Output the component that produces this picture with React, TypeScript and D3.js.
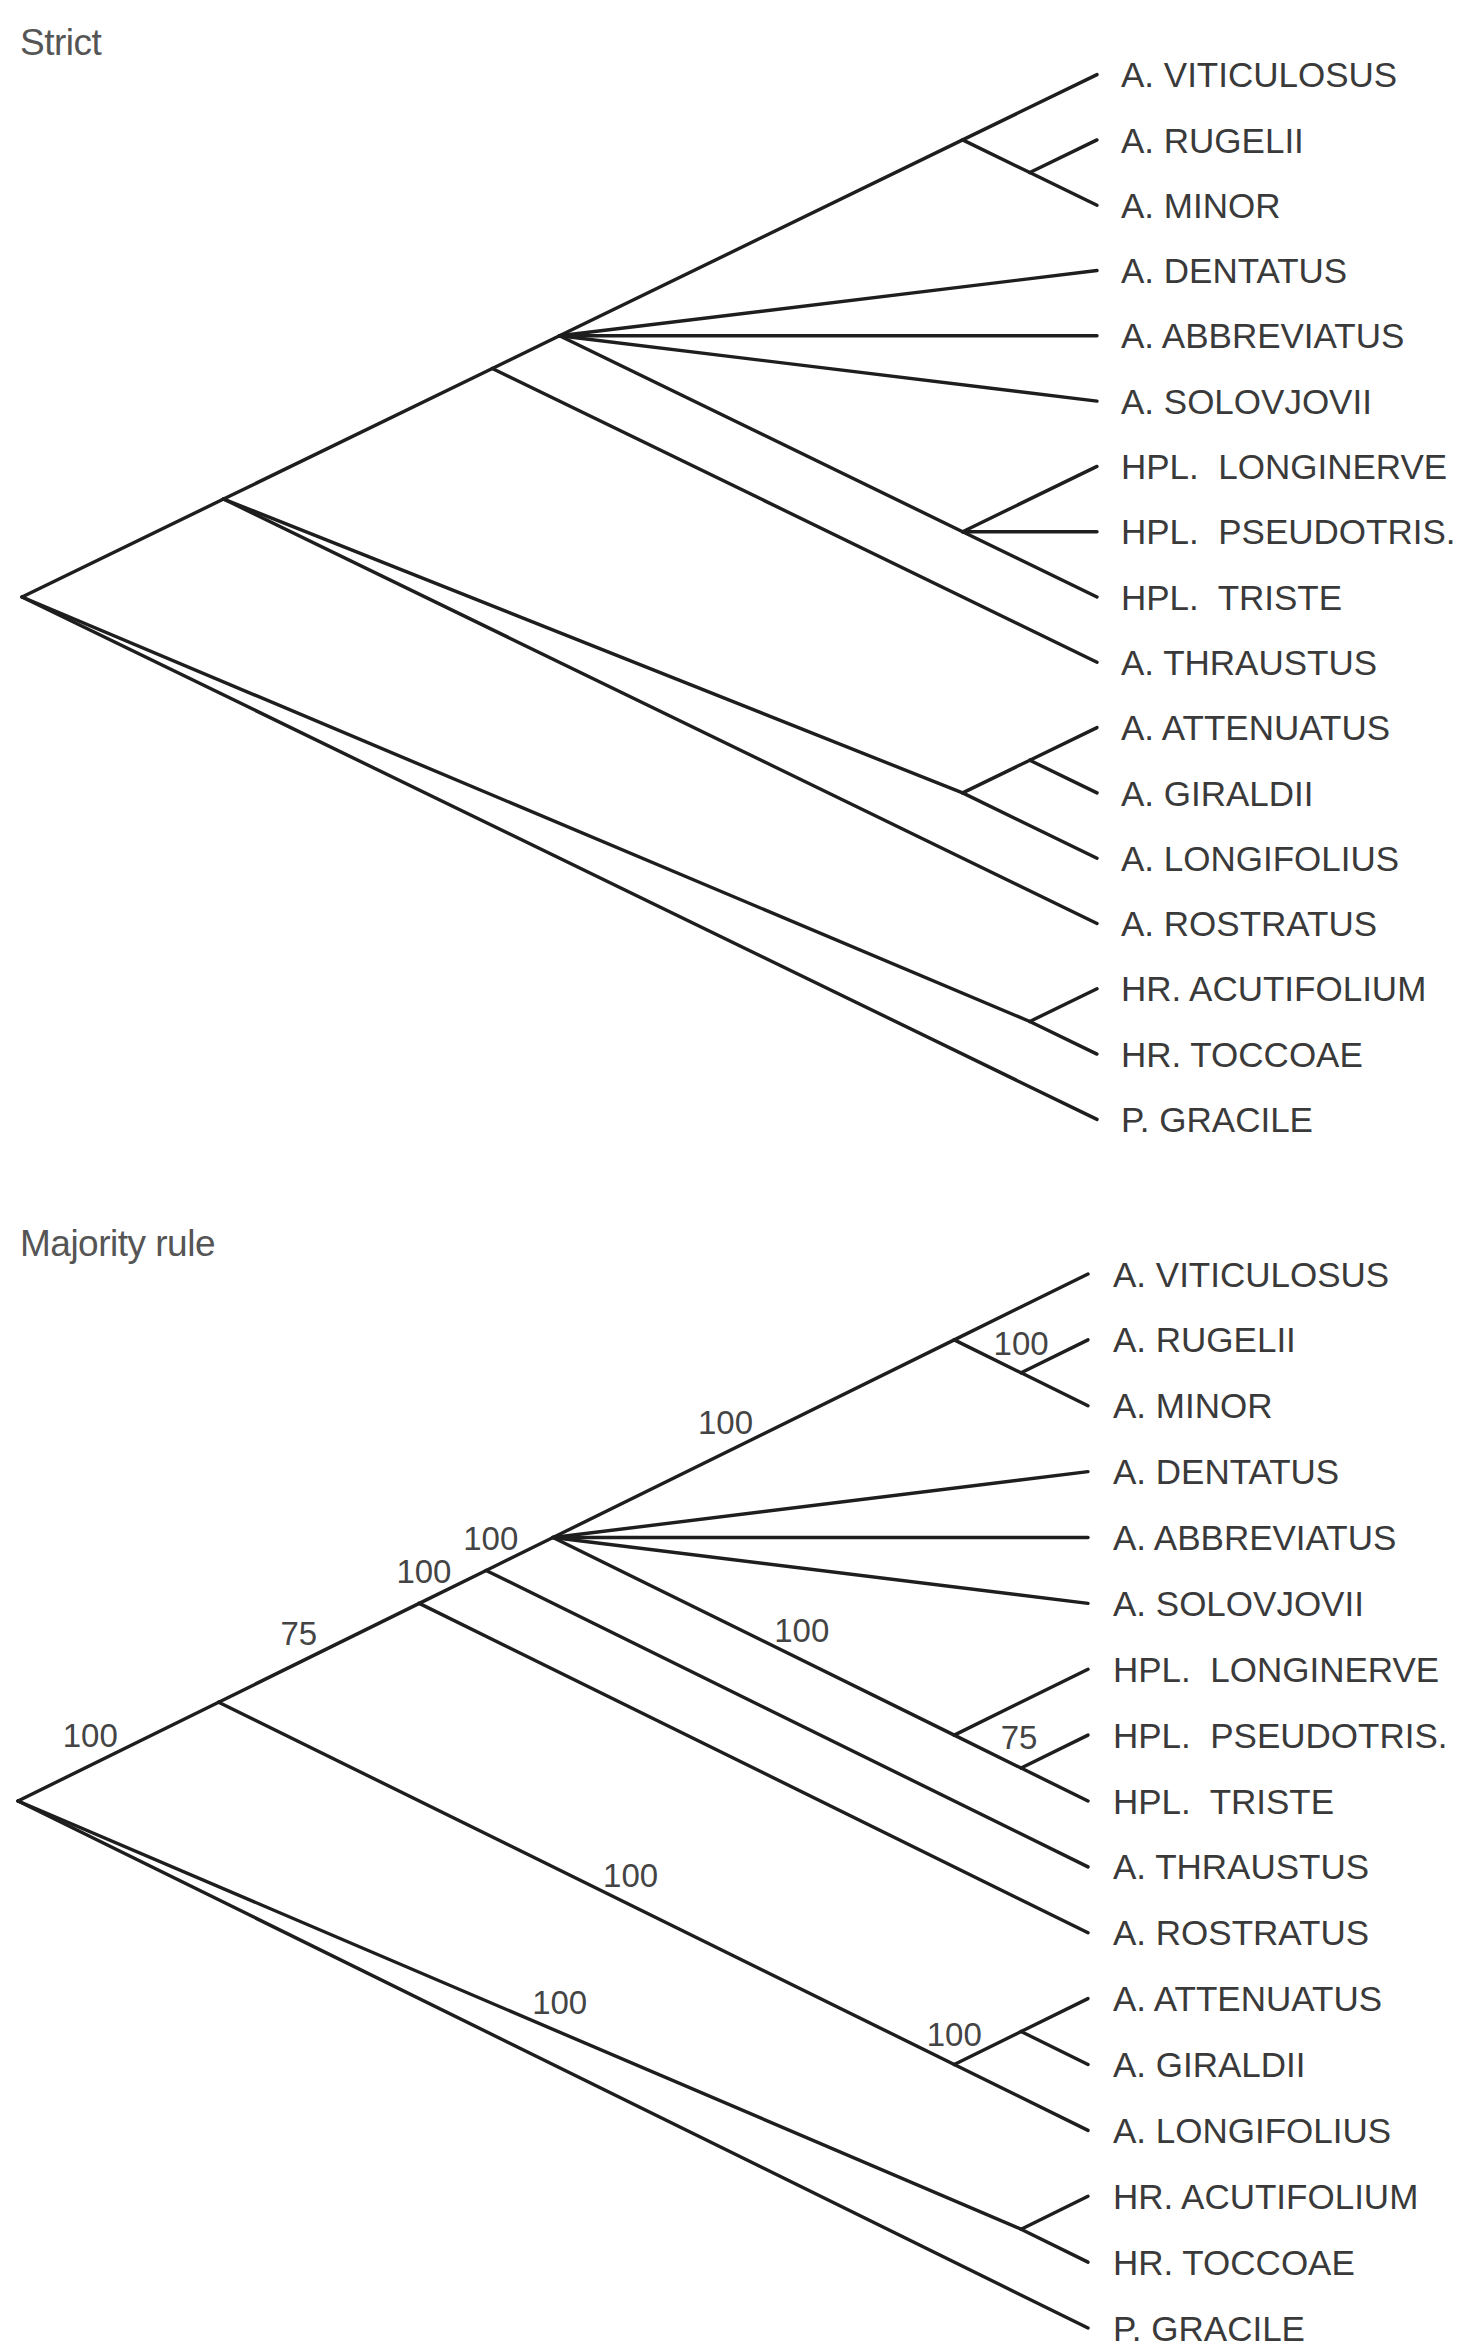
import { useEffect, useRef } from "react";
import * as d3 from "d3";

// leaf names, top to bottom
const strictLeaves = [
  "A. VITICULOSUS", "A. RUGELII", "A. MINOR", "A. DENTATUS", "A. ABBREVIATUS", "A. SOLOVJOVII",
  "HPL.  LONGINERVE", "HPL.  PSEUDOTRIS.", "HPL.  TRISTE", "A. THRAUSTUS",
  "A. ATTENUATUS", "A. GIRALDII", "A. LONGIFOLIUS", "A. ROSTRATUS",
  "HR. ACUTIFOLIUM", "HR. TOCCOAE", "P. GRACILE",
];
const majorityLeaves = [
  "A. VITICULOSUS", "A. RUGELII", "A. MINOR", "A. DENTATUS", "A. ABBREVIATUS", "A. SOLOVJOVII",
  "HPL.  LONGINERVE", "HPL.  PSEUDOTRIS.", "HPL.  TRISTE", "A. THRAUSTUS", "A. ROSTRATUS",
  "A. ATTENUATUS", "A. GIRALDII", "A. LONGIFOLIUS",
  "HR. ACUTIFOLIUM", "HR. TOCCOAE", "P. GRACILE",
];

// topology, newick style with leaf indices; numbers after ")" are support values
const strictTree = "(((((0,(1,2)),3,4,5,(6,7,8)),9),((10,11),12),13),(14,15),16)";
const majorityTree =
  "((((((0,(1,2)100)100,3,4,5,(6,(7,8)75)100)100,9)100,10)75,((11,12)100,13)100)100,(14,15)100,16)";

// where along its branch each support label sits (0 = parent end, 1 = child end), by clade leaf range
const labelAlong: Record<string, number> = {
  "0-13": 0.36, "0-10": 0.4, "0-9": 0.07, "0-8": 0.07, "0-2": 0.43, "1-2": 1.0,
  "6-8": 0.62, "7-8": 0.97, "11-13": 0.56, "11-12": 0.0, "14-15": 0.54,
};

const panels = [
  { title: "Strict", leaves: strictLeaves, tree: strictTree, titleY: 55, top: 74.6, bottom: 1119.4, tipX: 1097, rootX: 22, labelX: 1121 },
  { title: "Majority rule", leaves: majorityLeaves, tree: majorityTree, titleY: 1256, top: 1274, bottom: 2328, tipX: 1088, rootX: 18, labelX: 1113 },
];

function parseNewick(s: string) {
  let i = 0;
  const node = (): any => {
    const n: any = {};
    if (s[i] === "(") {
      i++;
      n.children = [node()];
      while (s[i] === ",") {
        i++;
        n.children.push(node());
      }
      i++; // ")"
    }
    let tok = "";
    while (i < s.length && !",()".includes(s[i])) tok += s[i++];
    if (n.children) {
      if (tok) n.support = tok;
    } else n.leaf = +tok;
    return n;
  };
  return node();
}

const App = () => {
  const svgRef = useRef<SVGSVGElement>(null);

  useEffect(() => {
    const svg = d3.select(svgRef.current);
    svg.selectAll("*").remove();
    svg.append("rect").attr("width", 1457).attr("height", 2349).attr("fill", "#fff");

    panels.forEach((p) => {
      const g = svg.append("g");
      const n = p.leaves.length;
      const y = d3.scalePoint<string>().domain(p.leaves).range([p.top, p.bottom]);
      const x = d3.scaleLinear().domain([0, (n - 1) / 2]).range([p.tipX, p.rootX]);

      const root: any = d3.hierarchy(parseNewick(p.tree));
      root.eachAfter((d: any) => {
        if (!d.children) {
          d.lo = d.hi = d.data.leaf;
        } else {
          d.lo = d3.min(d.children, (c: any) => c.lo);
          d.hi = d3.max(d.children, (c: any) => c.hi);
        }
        d.px = x((d.hi - d.lo) / 2);
        d.py = ((y(p.leaves[d.lo]) as number) + (y(p.leaves[d.hi]) as number)) / 2;
      });

      // title
      g.append("text")
        .attr("x", 20)
        .attr("y", p.titleY)
        .style("font-family", "'Liberation Sans', Arial, sans-serif")
        .style("font-size", "37px")
        .style("letter-spacing", "-0.5px")
        .style("fill", "#555")
        .text(p.title);

      // branches
      g.selectAll("line.branch")
        .data(root.links())
        .join("line")
        .attr("class", "branch")
        .attr("x1", (d: any) => d.source.px)
        .attr("y1", (d: any) => d.source.py)
        .attr("x2", (d: any) => d.target.px)
        .attr("y2", (d: any) => d.target.py)
        .style("stroke", "#1e1e1e")
        .style("stroke-width", 3.4)
        .style("stroke-linecap", "round");

      // leaf names
      g.selectAll("text.leaf")
        .data(root.leaves())
        .join("text")
        .attr("class", "leaf")
        .attr("x", p.labelX)
        .attr("y", (d: any) => d.py)
        .attr("dy", "0.36em")
        .style("font-family", "'Liberation Sans', Arial, sans-serif")
        .style("font-size", "35px")
        .style("fill", "#3a3a3a")
        .style("white-space", "pre")
        .text((d: any) => p.leaves[d.data.leaf]);

      // support values
      const supported = root.descendants().filter((d: any) => d.parent && d.data.support);
      g.selectAll("text.support")
        .data(supported)
        .join("text")
        .attr("class", "support")
        .attr("x", (d: any) => {
          const t = labelAlong[`${d.lo}-${d.hi}`] ?? 0.5;
          return d.parent.px + t * (d.px - d.parent.px);
        })
        .attr("y", (d: any) => {
          const t = labelAlong[`${d.lo}-${d.hi}`] ?? 0.5;
          return d.parent.py + t * (d.py - d.parent.py) - 30;
        })
        .attr("dy", "0.36em")
        .attr("text-anchor", "middle")
        .style("font-family", "'Liberation Sans', Arial, sans-serif")
        .style("font-size", "33px")
        .style("fill", "#444")
        .text((d: any) => d.data.support);
    });
  }, []);

  return (
    <svg
      ref={svgRef}
      width={1457}
      height={2349}
      style={{ position: "absolute", left: 0, top: 0, display: "block" }}
    />
  );
};

export default App;
